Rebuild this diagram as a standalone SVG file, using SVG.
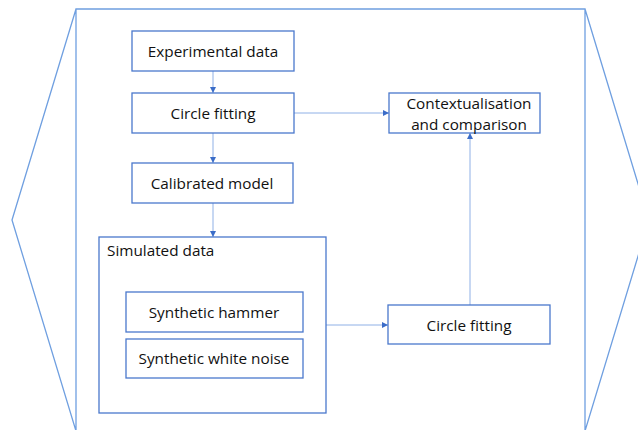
<svg xmlns="http://www.w3.org/2000/svg" width="638" height="430" viewBox="0 0 638 430">
<style>
.outer{fill:none;stroke:#6f9fe0;stroke-width:1.3}
.box{fill:#fff;stroke:#4a78cc;stroke-width:1.3}
.conn{fill:none;stroke:#8fb0e6;stroke-width:1}
.t{font-family:"Open Sans","Noto Sans",sans-serif;font-size:15.3px;fill:#111;text-anchor:middle;dominant-baseline:central}
.tl{text-anchor:start}
</style>
<defs>
<marker id="ah" viewBox="0 0 6 6" refX="6" refY="3" markerWidth="6" markerHeight="6" markerUnits="userSpaceOnUse" orient="auto">
<path d="M0,0 L6,3 L0,6 Z" fill="#3a6cc8"/>
</marker>
</defs>
<rect width="638" height="430" fill="#fff"/>
<g id="frame">
<path class="outer" d="M76,430 L76,9 L585,9 L585,430 M76,9 L12,220 L76,431 M585,9 L649,220 L585,431"/>
</g>
<g id="connectors">
<line class="conn" x1="213" y1="71" x2="213" y2="93" marker-end="url(#ah)"/>
<line class="conn" x1="213" y1="133" x2="213" y2="163" marker-end="url(#ah)"/>
<line class="conn" x1="213" y1="203" x2="213" y2="237" marker-end="url(#ah)"/>
<line class="conn" x1="294" y1="113" x2="389" y2="113" marker-end="url(#ah)"/>
<line class="conn" x1="326" y1="325" x2="388" y2="325" marker-end="url(#ah)"/>
<line class="conn" x1="470" y1="305" x2="470" y2="133" marker-end="url(#ah)"/>
</g>
<g id="experimental-data">
<rect class="box" x="132" y="31" width="162" height="40"/>
<text class="t" x="213" y="51">Experimental data</text>
</g>
<g id="circle-fitting-1">
<rect class="box" x="132" y="93" width="162" height="40"/>
<text class="t" x="213" y="113">Circle fitting</text>
</g>
<g id="contextualisation">
<rect class="box" x="389" y="93" width="151" height="40"/>
<text class="t" x="469" y="103">Contextualisation</text>
<text class="t" x="469" y="124">and comparison</text>
</g>
<g id="calibrated-model">
<rect class="box" x="132" y="163" width="161" height="40"/>
<text class="t" x="212" y="183">Calibrated model</text>
</g>
<g id="simulated-data">
<rect class="box" x="99" y="237" width="227" height="176"/>
<text class="t tl" x="107" y="250">Simulated data</text>
</g>
<g id="synthetic-hammer">
<rect class="box" x="126" y="292" width="177" height="40"/>
<text class="t" x="214" y="312">Synthetic hammer</text>
</g>
<g id="synthetic-white-noise">
<rect class="box" x="126" y="339" width="177" height="39"/>
<text class="t" x="214" y="358">Synthetic white noise</text>
</g>
<g id="circle-fitting-2">
<rect class="box" x="388" y="305" width="162" height="39"/>
<text class="t" x="469" y="325">Circle fitting</text>
</g>
</svg>
